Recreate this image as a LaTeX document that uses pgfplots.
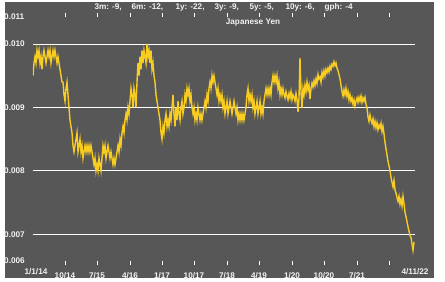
\documentclass[border=0pt]{standalone}
\usepackage{fontspec}
\setmainfont{Liberation Sans}
\usepackage{pgfplots}
\pgfplotsset{compat=1.18}
\definecolor{bg}{RGB}{87,87,87}
\definecolor{ln}{RGB}{248,204,32}
\definecolor{tx}{RGB}{242,242,242}
\begin{document}
\begin{tikzpicture}[font=\bfseries\fontsize{8.2bp}{9bp}\selectfont]
\fill[white] (0,0) rectangle (445bp,282bp);
\fill[bg] (5bp,4bp) rectangle (434bp,280bp);
\begin{axis}[
  at={(33bp,21bp)}, anchor=south west,
  scale only axis, width=382bp, height=244bp,
  xmin=0, xmax=382, ymin=0.00658, ymax=0.010425,
  axis line style={draw=none},
  scaled y ticks=false,
  ytick={0.007,0.008,0.009,0.010},
  yticklabels={0.007,0.008,0.009,0.010},
  extra y ticks={0.00658,0.010425},
  extra y tick labels={0.006,0.011},
  extra y tick style={grid=none},
  ymajorgrids, grid style={white, line width=0.9bp},
  ytick style={draw=none},
  yticklabel style={anchor=west, inner sep=0pt, xshift=-25bp, text=tx},
  xtick={32,64,97,129,161,194,226,259,291,324,356},
  xticklabels={10/14,7/15,4/16,1/17,10/17,7/18,4/19,1/20,10/20,7/21,{}},
  extra x ticks={3,382},
  extra x tick labels={1/1/14,4/11/22},
  extra x tick style={major tick length=0pt},
  tick align=outside, major tick length=4bp,
  xtick style={white, line width=0.8bp},
  xticklabel style={text=tx, inner sep=0pt, anchor=north, yshift=-7.5bp},
]
\addplot[ln, line width=1.4bp, no markers] table[x expr=\coordindex, y=y, row sep=\\] {
y\\
0.0095\\0.0097\\0.0098\\0.0097\\0.0099\\0.0098\\0.0099\\0.0097\\0.0098\\0.0096\\
0.0098\\0.0099\\0.0098\\0.0097\\0.0098\\0.0099\\0.0098\\0.0099\\0.0097\\0.0098\\
0.0099\\0.0098\\0.0099\\0.0098\\0.0097\\0.0098\\0.0097\\0.0096\\
0.0095\\0.0094\\0.0094\\0.0092\\0.0091\\0.0093\\0.0094\\0.0092\\0.0090\\0.0088\\
0.0087\\0.0086\\0.0084\\0.0083\\0.0084\\0.0085\\0.0086\\0.0083\\0.0084\\0.0085\\
0.0083\\0.0084\\0.0082\\0.0083\\0.0084\\0.0083\\0.0084\\0.0083\\0.0084\\0.0083\\
0.0084\\0.0083\\0.0082\\0.0081\\0.0082\\0.0080\\0.0081\\0.0080\\0.0082\\0.0081\\
0.0080\\0.0082\\0.0084\\0.0083\\0.0084\\0.0082\\0.0083\\0.0084\\0.0083\\0.0082\\
0.0083\\0.0082\\0.0081\\0.0082\\0.0081\\0.0082\\0.0083\\0.0084\\0.0083\\0.0085\\
0.0084\\0.0086\\0.0087\\0.0086\\0.0088\\0.0089\\0.0088\\0.0090\\0.0089\\0.0091\\
0.0093\\0.0092\\0.0090\\0.0093\\0.0092\\0.0090\\0.0094\\0.0097\\0.0095\\0.0098\\
0.0096\\0.0099\\0.0097\\0.0099\\0.0098\\0.0097\\0.0100\\0.0098\\0.0099\\0.0097\\
0.0099\\0.0096\\0.0097\\0.0095\\0.0094\\0.0092\\0.0091\\0.0090\\0.0089\\0.0088\\
0.0086\\0.0085\\0.0087\\0.0086\\0.0088\\0.0089\\0.0087\\0.0088\\0.0087\\0.0089\\
0.0088\\0.0090\\0.0092\\0.0089\\0.0087\\0.0090\\0.0088\\0.0091\\0.0089\\0.0088\\
0.0090\\0.0091\\0.0089\\0.0090\\0.0092\\0.0091\\0.0093\\0.0092\\0.0093\\0.0091\\
0.0092\\0.0090\\0.0089\\0.0090\\0.0088\\0.0089\\0.0088\\0.0090\\0.0089\\0.0088\\
0.0089\\0.0088\\0.0089\\0.0090\\0.0091\\0.0090\\0.0092\\0.0091\\0.0093\\0.0094\\
0.0093\\0.0095\\0.0094\\0.0095\\0.0094\\0.0093\\0.0092\\0.0093\\0.0091\\0.0092\\
0.0091\\0.0092\\0.0090\\0.0091\\0.0089\\0.0090\\0.0091\\0.0089\\0.0090\\0.0091\\
0.0090\\0.0089\\0.0090\\0.0091\\0.0090\\0.0089\\0.0090\\0.0088\\0.0089\\0.0088\\
0.0089\\0.0088\\0.0089\\0.0088\\0.0089\\0.0090\\0.0092\\0.0093\\0.0091\\0.0092\\
0.0091\\0.0092\\0.0090\\0.0091\\0.0089\\0.0090\\0.0091\\0.0089\\0.0090\\0.0091\\
0.0089\\0.0090\\0.0089\\0.0091\\0.0092\\0.0093\\0.0092\\0.0093\\0.0092\\0.0093\\
0.0092\\0.0094\\0.0095\\0.0094\\0.0095\\0.0094\\0.0095\\0.0093\\0.0094\\0.0092\\
0.0093\\0.0092\\0.0093\\0.0092\\
0.00915\\0.00925\\0.00918\\0.00912\\0.00922\\0.00915\\0.00925\\0.00912\\0.00920\\0.00916\\
0.00910\\0.00922\\0.00912\\0.00893\\0.00915\\0.00978\\0.00925\\0.00899\\0.00930\\0.00920\\
0.00935\\0.00925\\0.00940\\0.00928\\0.00935\\0.00913\\0.00930\\0.00938\\0.00932\\0.00942\\
0.00935\\0.00945\\0.00938\\0.00952\\0.00945\\0.00948\\0.00940\\0.00955\\0.00948\\0.00958\\
0.00950\\0.00960\\0.00955\\0.00962\\0.00956\\0.00965\\0.00960\\0.00968\\0.00965\\0.00972\\
0.00966\\0.00970\\0.00962\\0.00958\\0.00952\\0.00945\\0.00935\\0.00925\\0.00918\\0.00928\\
0.00920\\0.00930\\0.00918\\0.00925\\0.00912\\0.00920\\0.00910\\0.00915\\0.00905\\0.00912\\
0.00902\\0.00910\\0.00915\\0.00908\\0.00916\\0.00910\\0.00918\\0.00908\\0.00915\\0.00910\\
0.00916\\0.00905\\0.00900\\0.00885\\0.00878\\0.00888\\0.00880\\0.00875\\0.00882\\0.00870\\
0.00878\\0.00868\\0.00876\\0.00865\\0.00872\\0.00868\\0.00875\\0.00862\\0.00870\\0.00858\\
0.00845\\0.00835\\0.00825\\0.00815\\0.00808\\0.00800\\0.00790\\0.00782\\0.00775\\0.00785\\
0.00770\\0.00765\\0.00758\\0.00752\\0.00760\\0.00748\\0.00755\\0.00745\\0.00760\\0.00748\\
0.00735\\0.00728\\0.00720\\0.00712\\0.00705\\0.00698\\0.00695\\0.00685\\0.00675\\0.00688\\
};
\end{axis}
\node[text=tx, anchor=west] at (91bp,274.7bp) {3m: -9,};
\node[text=tx, anchor=west] at (128bp,274.7bp) {6m: -12,};
\node[text=tx, anchor=west] at (172bp,274.7bp) {1y: -22,};
\node[text=tx, anchor=west] at (211bp,274.7bp) {3y: -9,};
\node[text=tx, anchor=west] at (246bp,274.7bp) {5y: -5,};
\node[text=tx, anchor=west] at (282bp,274.7bp) {10y: -6,};
\node[text=tx, anchor=west] at (321bp,274.7bp) {gph: -4};
\node[text=tx] at (253bp,259bp) {Japanese Yen};
\pgfresetboundingbox
\path[use as bounding box] (0,0) rectangle (445bp,282bp);
\end{tikzpicture}
\end{document}
